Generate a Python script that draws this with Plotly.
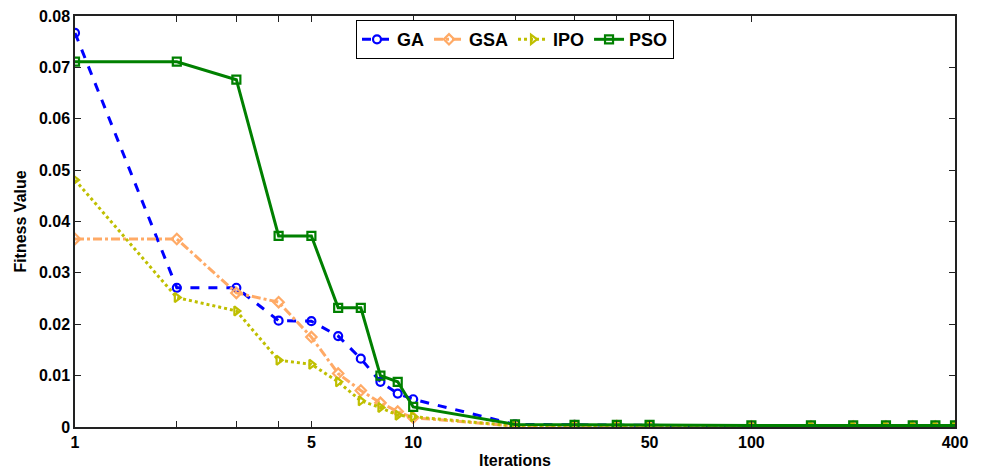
import plotly.graph_objects as go

iterations = [1, 2, 3, 4, 5, 6, 7, 8, 9, 10, 20, 30, 40, 50, 100, 150, 200, 250, 300, 350, 400]

ga = [0.0767, 0.0271, 0.0271, 0.0207, 0.0206, 0.0177, 0.0133, 0.0088, 0.0065, 0.0054,
      0.0005, 0.0004, 0.0003, 0.0003, 0.0002, 0.0002, 0.0002, 0.0002, 0.0002, 0.0002, 0.0002]
gsa = [0.0366, 0.0366, 0.0261, 0.0243, 0.0175, 0.0104, 0.0071, 0.0047, 0.0030, 0.0018,
       0.0002, 0.0002, 0.0002, 0.0001, 0.0001, 0.0001, 0.0001, 0.0001, 0.0001, 0.0001, 0.0001]
ipo = [0.0481, 0.0252, 0.0226, 0.0130, 0.0122, 0.0088, 0.0051, 0.0038, 0.0023, 0.0020,
       0.0002, 0.0002, 0.0002, 0.0001, 0.0001, 0.0001, 0.0001, 0.0001, 0.0001, 0.0001, 0.0001]
pso = [0.0711, 0.0711, 0.0676, 0.0372, 0.0372, 0.0232, 0.0232, 0.0100, 0.0088, 0.0039,
       0.0005, 0.0004, 0.0004, 0.0004, 0.0003, 0.0003, 0.0003, 0.0003, 0.0003, 0.0003, 0.0003]

x_tick_vals = [1, 2, 3, 4, 5, 10, 20, 30, 40, 50, 100, 400]
x_tick_text = ["1", "", "", "", "5", "10", "", "", "", "50", "100", "400"]

series = [
    ("GA", ga, "#0000FF", "dash", "circle-open"),
    ("GSA", gsa, "#FFAA66", "dashdot", "diamond-open"),
    ("IPO", ipo, "#BFBF00", "dot", "triangle-right-open"),
    ("PSO", pso, "#008000", "solid", "square-open"),
]

fig = go.Figure()
for name, vals, color, dash, sym in series:
    fig.add_trace(go.Scatter(
        x=iterations, y=vals, name=name, mode="lines+markers",
        line=dict(color=color, width=3, dash=dash),
        marker=dict(symbol=sym, size=8, color=color, line=dict(color=color, width=2.2)),
    ))

font = dict(family="Liberation Sans, Arial, sans-serif", size=16, color="black", weight="bold")

fig.update_layout(
    width=981, height=469,
    margin=dict(l=75, r=26, t=16, b=42),
    paper_bgcolor="white", plot_bgcolor="white",
    font=font,
    showlegend=True,
    legend=dict(
        orientation="h", x=0.5, xanchor="center", y=0.99, yanchor="top",
        bordercolor="black", borderwidth=1, bgcolor="white",
        font=dict(family="Liberation Sans, Arial, sans-serif", size=18, color="black", weight="bold"),
        itemwidth=30, tracegroupgap=0,
    ),
    xaxis=dict(
        type="log", range=[0, 2.60206], automargin=False,
        tickmode="array", tickvals=x_tick_vals, ticktext=x_tick_text,
        ticks="inside", ticklen=6, tickwidth=1.2, tickcolor="#222",
        showline=True, linecolor="#222", linewidth=1.5, mirror="ticks",
        showgrid=False, zeroline=False,
        title=dict(text="Iterations", standoff=6, font=font),
        tickfont=font,
    ),
    yaxis=dict(
        range=[0, 0.08], tickmode="linear", tick0=0, dtick=0.01, automargin=False,
        ticks="inside", ticklen=6, tickwidth=1.2, tickcolor="#222",
        showline=True, linecolor="#222", linewidth=1.5, mirror="ticks",
        showgrid=False, zeroline=False,
        title=dict(text="Fitness Value", standoff=8, font=font),
        tickfont=font,
    ),
)

fig.write_html("out.html")
